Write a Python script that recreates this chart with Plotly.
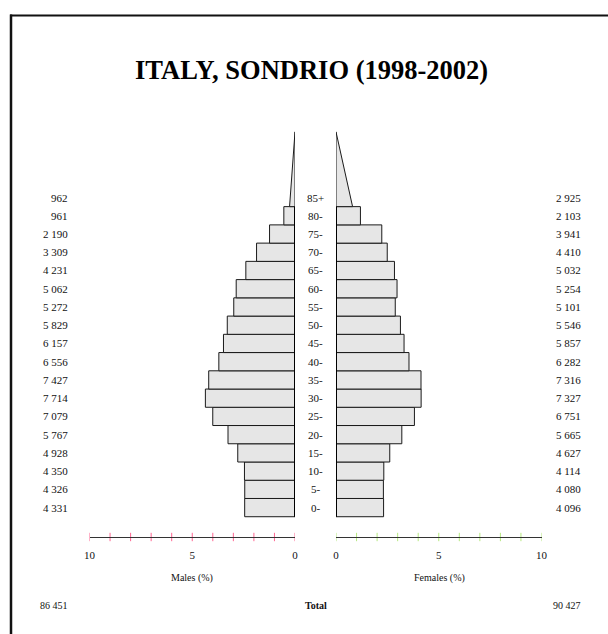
import plotly.graph_objects as go

# Population of Sondrio by five-year age group, 1998-2002
age_groups = ["0-", "5-", "10-", "15-", "20-", "25-", "30-", "35-", "40-",
              "45-", "50-", "55-", "60-", "65-", "70-", "75-", "80-", "85+"]
males = [4331, 4326, 4350, 4928, 5767, 7079, 7714, 7427, 6556,
         6157, 5829, 5272, 5062, 4231, 3309, 2190, 961, 962]
females = [4096, 4080, 4114, 4627, 5665, 6751, 7327, 7316, 6282,
           5857, 5546, 5101, 5254, 5032, 4410, 3941, 2103, 2925]
male_total = 86451
female_total = 90427
axis_ticks = list(range(0, 11))
axis_labels = ["0", "", "", "", "", "5", "", "", "", "", "10"]

W, H = 608, 634
FONT = "Liberation Serif, Times New Roman, serif"
FILL = "#e6e6e6"
EDGE = "#1a1a1a"

grand_total = male_total + female_total
male_pct = [v / grand_total * 100 for v in males]
female_pct = [v / grand_total * 100 for v in females]

n_closed = len(age_groups) - 1          # groups drawn as rectangles
rows = list(range(n_closed))
tri_height = 4.1                         # open-ended group drawn as a triangle (rows)


def px(x):
    return x / W


def py(y):
    return 1 - y / H


def fmt(n):
    return f"{n:,}".replace(",", " ")


# vertical layout: row centres in pixels, and the scale line below the bars
row0_px, row_px = 507.6, 18.24
axis_px = 537
y_range = [(row0_px - H) / row_px, row0_px / row_px]
axis_row = (row0_px - axis_px) / row_px

fig = go.Figure()

# closed age groups as bars
fig.add_trace(go.Bar(x=male_pct[:n_closed], y=rows, orientation="h", width=1,
                     xaxis="x", yaxis="y", marker=dict(color=FILL, line=dict(color=EDGE, width=1)),
                     hoverinfo="skip"))
fig.add_trace(go.Bar(x=female_pct[:n_closed], y=rows, orientation="h", width=1,
                     xaxis="x2", yaxis="y", marker=dict(color=FILL, line=dict(color=EDGE, width=1)),
                     hoverinfo="skip"))

# open-ended group: triangle with the same area as its bar would have
top = n_closed - 0.5
for pct, xa in ((male_pct[-1], "x"), (female_pct[-1], "x2")):
    base = 2 * pct / tri_height
    fig.add_trace(go.Scatter(x=[0, base, 0, 0], y=[top, top, top + tri_height, top],
                             xaxis=xa, yaxis="y", mode="lines", fill="toself",
                             fillcolor=FILL, line=dict(color=EDGE, width=1),
                             hoverinfo="skip"))

# central baselines
for xa in ("x", "x2"):
    fig.add_trace(go.Scatter(x=[0, 0], y=[-0.5, top], xaxis=xa, yaxis="y", mode="lines",
                             line=dict(color="#000000", width=2), hoverinfo="skip"))

# tick marks crossing the percentage scale lines
for xa in ("x", "x2"):
    fig.add_trace(go.Scatter(x=axis_ticks, y=[axis_row] * len(axis_ticks), xaxis=xa, yaxis="y",
                             mode="markers", hoverinfo="skip",
                             marker=dict(symbol="line-ns-open", size=6,
                                         line=dict(color="#333333", width=1))))

annotations = []
# counts and age labels
for i, (ag, m, f) in enumerate(zip(age_groups, males, females)):
    annotations.append(dict(x=px(70), y=i, xref="paper", yref="y", text=fmt(m),
                            xanchor="right", yanchor="middle", showarrow=False))
    annotations.append(dict(x=px(583), y=i, xref="paper", yref="y", text=fmt(f),
                            xanchor="right", yanchor="middle", showarrow=False))
    annotations.append(dict(x=px(315.5), y=i, xref="paper", yref="y", text=ag,
                            xanchor="center", yanchor="middle", showarrow=False))

annotations += [
    dict(x=px(311), y=py(70), xref="paper", yref="paper", text="<b>ITALY, SONDRIO (1998-2002)</b>",
         font=dict(size=26.5, color="#000000"), xanchor="center", yanchor="middle", showarrow=False),
    dict(x=px(192), y=py(578), xref="paper", yref="paper", text="Males (%)",
         font=dict(size=10), xanchor="center", yanchor="middle", showarrow=False),
    dict(x=px(439), y=py(578), xref="paper", yref="paper", text="Females (%)",
         font=dict(size=10), xanchor="center", yanchor="middle", showarrow=False),
    dict(x=px(315.5), y=py(605), xref="paper", yref="paper", text="<b>Total</b>",
         font=dict(size=10), xanchor="center", yanchor="middle", showarrow=False),
    dict(x=px(70), y=py(605), xref="paper", yref="paper", text=fmt(male_total),
         font=dict(size=10), xanchor="right", yanchor="middle", showarrow=False),
    dict(x=px(583), y=py(605), xref="paper", yref="paper", text=fmt(female_total),
         font=dict(size=10), xanchor="right", yanchor="middle", showarrow=False),
]

male_dom = [px(89.5), px(295)]
female_dom = [px(336), px(541.5)]

common = dict(anchor="free", position=py(axis_px), showgrid=False, zeroline=False,
              showline=True, linecolor="#333333", linewidth=1, tickmode="array",
              tickvals=axis_ticks, ticks="", tickfont=dict(size=11, color="#111111"),
              ticklabelstandoff=8, fixedrange=True, automargin=False)

fig.update_layout(
    width=W, height=H, autosize=False,
    margin=dict(l=0, r=0, t=0, b=0, pad=0),
    paper_bgcolor="white", plot_bgcolor="rgba(0,0,0,0)",
    font=dict(family=FONT, size=11, color="#111111"),
    showlegend=False, barmode="overlay",
    xaxis=dict(domain=male_dom, range=[10, 0], ticktext=axis_labels, **common),
    xaxis2=dict(domain=female_dom, range=[0, 10], ticktext=axis_labels, **common),
    yaxis=dict(domain=[0, 1], range=y_range, visible=False, fixedrange=True, automargin=False),
    annotations=annotations,
    shapes=[
        dict(type="line", xref="paper", yref="paper", x0=px(10), x1=1,
             y0=py(15.5), y1=py(15.5), line=dict(color="#111111", width=2)),
        dict(type="line", xref="paper", yref="paper", x0=px(11), x1=px(11),
             y0=py(14.5), y1=0, line=dict(color="#111111", width=2.5)),
    ],
)

fig.write_html("out.html", config={"displayModeBar": False})
